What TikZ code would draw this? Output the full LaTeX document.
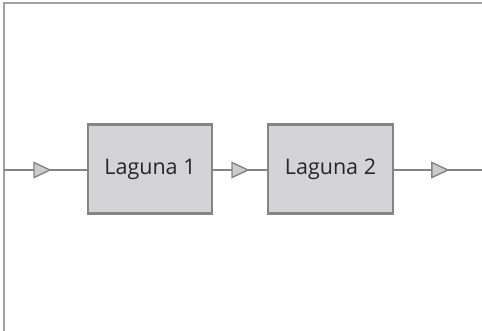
\documentclass[tikz,border=0pt]{standalone}
\usepackage{fontspec}
\setmainfont{Open Sans}
\usetikzlibrary{decorations.markings}
\definecolor{lineg}{HTML}{858585}
\definecolor{frameg}{HTML}{A0A0A0}
\definecolor{boxfill}{HTML}{D4D4D6}
\definecolor{tri}{HTML}{CCCCCE}
\tikzset{
  laguna/.style={draw=lineg, line width=2.6pt, fill=boxfill, minimum width=124pt, minimum height=89pt, inner sep=0pt, font=\fontsize{21.5}{25}\selectfont, text=black!85},
  flow/.style={draw=lineg, line width=2.2pt, postaction={decorate}, decoration={markings, mark=at position #1 with {\draw[lineg, line width=1.4pt, fill=tri, line join=miter] (-8pt,7.5pt) -- (8pt,0pt) -- (-8pt,-7.5pt) -- cycle;}}},
  frame/.style={draw=frameg, line width=2.2pt}
}
\begin{document}
\begin{tikzpicture}[x=1pt,y=1pt]
\useasboundingbox (0,0) rectangle (482,-331);
\coordinate (tl) at (4,-3);
\coordinate (tr) at (482,-3);
\coordinate (bl) at (4,-331);
\draw[frame] (bl) -- (tl) -- (tr);
\coordinate (in) at (4,-170);
\coordinate (out) at (482,-170);
\node[laguna] (l1) at (150,-169) {Laguna 1};
\node[laguna, minimum width=125pt] (l2) at (330.5,-169) {Laguna 2};
\draw[flow=0.46] (in) -- (l1.west |- in);
\draw[flow=0.5] (l1.east |- in) -- (l2.west |- in);
\draw[flow=0.52] (l2.east |- in) -- (out);
\end{tikzpicture}
\end{document}
